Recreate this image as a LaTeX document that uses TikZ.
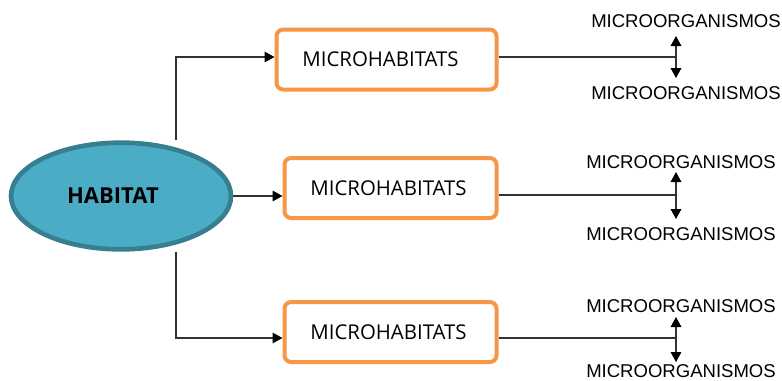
\documentclass[tikz,border=0pt]{standalone}
\usepackage{fontspec}
\setmainfont{Liberation Sans}
\newfontfamily\boxfont{Open Sans}
\usetikzlibrary{shapes.geometric,arrows.meta}
\definecolor{ellfill}{HTML}{4BACC6}
\definecolor{elldraw}{HTML}{357F91}
\definecolor{boxdraw}{HTML}{F79646}
\begin{document}
\begin{tikzpicture}[x=0.75pt,y=-0.75pt,
  hab/.style={ellipse,fill=ellfill,draw=elldraw,line width=3.5pt,inner sep=0pt},
  mbox/.style={draw=boxdraw,line width=3pt,rounded corners=5pt,fill=white,inner sep=0pt},
  mtext/.style={font=\boxfont\fontsize{15.3}{17}\selectfont,inner sep=0pt},
  org/.style={font=\fontsize{13.9}{15}\selectfont,inner sep=0pt},
  conn/.style={draw=black!80,line width=0.8pt},
  tip/.style={Triangle[length=7.5pt,width=8pt,color=black]},
  arr/.style={conn,-{Triangle[length=7.5pt,width=8pt,color=black]}},
  darr/.style={conn,{Triangle[length=7.5pt,width=8pt,color=black]}-{Triangle[length=7.5pt,width=8pt,color=black]}}]
\useasboundingbox (0,0) rectangle (782,380);
\node[hab,minimum width=165pt,minimum height=80pt] (h) at (121,196) {};
\node[font=\boxfont\bfseries\fontsize{16.5}{18}\selectfont,inner sep=0pt] (ht) at (113,196) {HABITAT};
\node[mbox,minimum width=165pt,minimum height=45pt] (m1) at (386.5,59.5) {};
\node[mbox,minimum width=159pt,minimum height=45pt] (m2) at (390.5,188) {};
\node[mbox,minimum width=159pt,minimum height=45pt] (m3) at (390.5,332) {};
\node[mtext] (t1x) at (380.5,59.5) {MICROHABITATS};
\node[mtext] (t2x) at (388.5,188) {MICROHABITATS};
\node[mtext] (t3x) at (388.5,332) {MICROHABITATS};
\node[org] (o1a) at (686,21) {MICROORGANISMOS};
\node[org] (o1b) at (686,93) {MICROORGANISMOS};
\node[org] (o2a) at (681,162) {MICROORGANISMOS};
\node[org] (o2b) at (681,234) {MICROORGANISMOS};
\node[org] (o3a) at (681,306) {MICROORGANISMOS};
\node[org] (o3b) at (681,371) {MICROORGANISMOS};
\coordinate (j1) at (676,57);
\coordinate (j2) at (676,195);
\coordinate (j3) at (676,338);
\coordinate (t1) at (676,36); \coordinate (b1) at (676,78);
\coordinate (t2) at (676,172); \coordinate (b2) at (676,219);
\coordinate (t3) at (676,317); \coordinate (b3) at (676,362);
\draw[arr] (h.east) -- (m2.west |- h.east);
\draw[arr] (h.north -| 176,0) |- (m1.west |- j1);
\draw[arr] (h.south -| 176,0) |- (m3.west |- j3);
\draw[conn] (m1.east |- j1) -- (j1);
\draw[conn] (m2.east |- j2) -- (j2);
\draw[conn] (m3.east |- j3) -- (j3);
\draw[darr] (t1) -- (b1);
\draw[darr] (t2) -- (b2);
\draw[darr] (t3) -- (b3);
\end{tikzpicture}
\end{document}
